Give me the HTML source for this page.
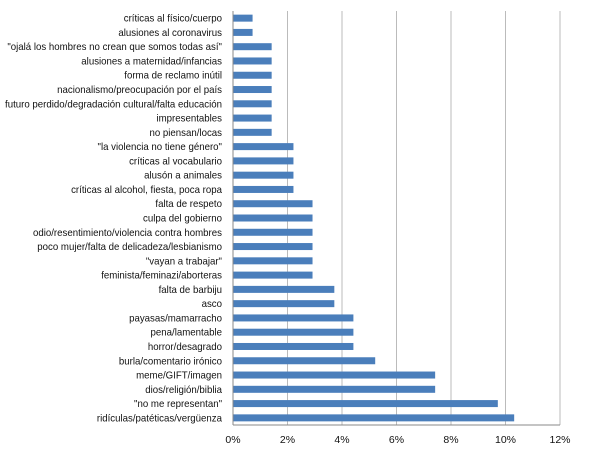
<!DOCTYPE html>
<html><head><meta charset="utf-8"><style>
body{margin:0;background:#fff;}
svg text{font-family:"Liberation Sans",sans-serif;font-size:10.5px;fill:#111;}
</style></head><body>
<svg id="chart" width="601" height="457"></svg>
<script>
const categories=["críticas al físico/cuerpo","alusiones al coronavirus","\"ojalá los hombres no crean que somos todas así\"","alusiones a maternidad/infancias","forma de reclamo inútil","nacionalismo/preocupación por el país","futuro perdido/degradación cultural/falta educación","impresentables","no piensan/locas","\"la violencia no tiene género\"","críticas al vocabulario","alusón a animales","críticas al alcohol, fiesta, poca ropa","falta de respeto","culpa del gobierno","odio/resentimiento/violencia contra hombres","poco mujer/falta de delicadeza/lesbianismo","\"vayan a trabajar\"","feminista/feminazi/aborteras","falta de barbiju","asco","payasas/mamarracho","pena/lamentable","horror/desagrado","burla/comentario irónico","meme/GIFT/imagen","dios/religión/biblia","\"no me representan\"","ridículas/patéticas/vergüenza"];
const values=[0.7,0.7,1.4,1.4,1.4,1.4,1.4,1.4,1.4,2.2,2.2,2.2,2.2,2.9,2.9,2.9,2.9,2.9,2.9,3.7,3.7,4.4,4.4,4.4,5.2,7.4,7.4,9.7,10.3];
const ticks=[0,2,4,6,8,10,12];
const ns="http://www.w3.org/2000/svg",svg=document.getElementById('chart');
const X0=233,X1=560,Y0=11,Y1=425;
const x=v=>X0+(v/12)*(X1-X0);
const n=categories.length,step=(Y1-Y0)/n;
const y=i=>Y0+step*(i+0.5);
function mk(t,a){const e=document.createElementNS(ns,t);for(const k in a)e.setAttribute(k,a[k]);svg.appendChild(e);return e;}
ticks.forEach(t=>{
 const g=mk('line',{x1:x(t),x2:x(t),y1:Y0,y2:Y1,stroke:t===0?'#888':'#bbb','stroke-width':1});
 
 
 const l=mk('text',{x:x(t),y:443,'text-anchor':'middle'});l.textContent=t+'%';
 
 
});
const ax=mk('line',{x1:X0,x2:X1,y1:Y1,y2:Y1,stroke:'#888'});


categories.forEach((c,i)=>{
 const r=mk('rect',{x:x(0)+0.5,y:y(i)-3.5,width:x(values[i])-x(0),height:7,fill:'#4a7ebb'});
 
 
 const t=mk('text',{x:222,y:y(i)+3.5,'text-anchor':'end'});t.textContent=c;
 
 
 const w=t.getComputedTextLength();
 t.setAttribute('textLength',w*0.92);
 t.setAttribute('lengthAdjust','spacingAndGlyphs');
});
</script>
</body></html>
